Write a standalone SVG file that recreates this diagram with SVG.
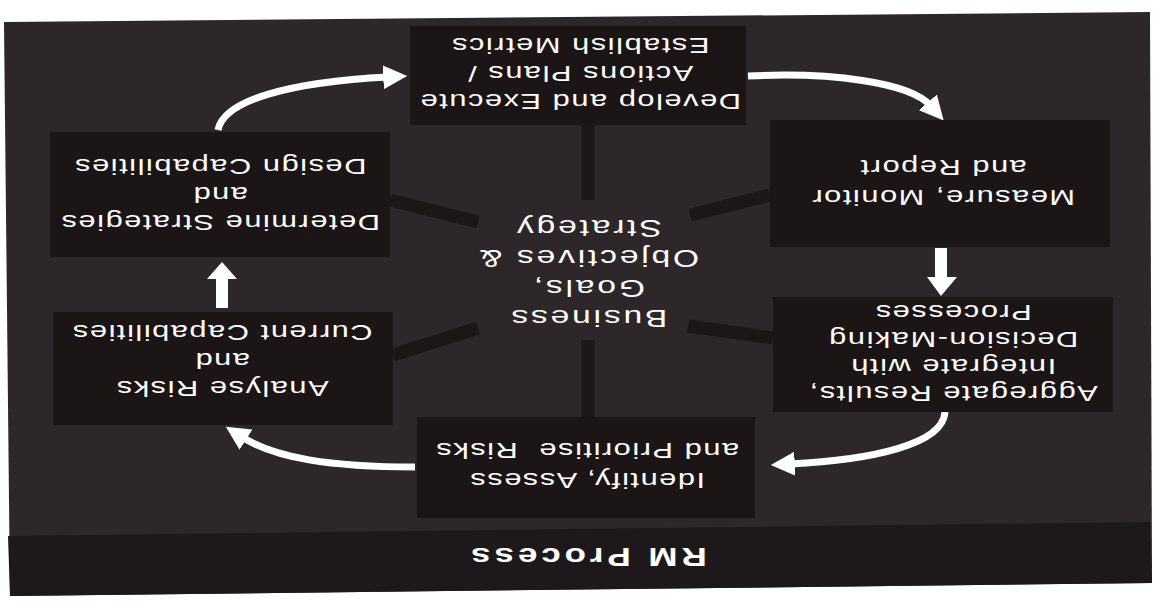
<svg xmlns="http://www.w3.org/2000/svg" width="1160" height="603" viewBox="0 0 1160 603">
<style>
.box{fill:#1b1516;}
.t{font-family:"Liberation Sans",Arial,sans-serif;font-size:22px;fill:#ffffff;text-anchor:middle;dominant-baseline:central;letter-spacing:1.1px;white-space:pre;}
.c{font-size:24px;letter-spacing:2px;}
.ttl{font-family:"Liberation Sans",Arial,sans-serif;font-size:25px;font-weight:bold;fill:#ffffff;text-anchor:middle;dominant-baseline:central;letter-spacing:2.8px;}
.spoke{stroke:#1c1617;stroke-width:13;fill:none;}
.arr{stroke:#ffffff;stroke-width:7;fill:none;marker-end:url(#ah);}
</style>
<defs>
<marker id="ah" viewBox="0 0 10 10" refX="2" refY="5" markerWidth="24" markerHeight="24" markerUnits="userSpaceOnUse" orient="auto">
<path d="M0,0 L10,5 L0,10 z" fill="#ffffff"/>
</marker>
</defs>
<rect x="0" y="0" width="1160" height="603" fill="#ffffff"/>
<g id="panel">
<polygon points="4,22 1150,12 1152,583 10,596" fill="#2e2729"/>
<polygon points="8,536 1150,522 1152,583 10,596" fill="#1d1819"/>
</g>
<g id="connectors">
<line class="spoke" x1="588" y1="125" x2="588" y2="200"/>
<line class="spoke" x1="588" y1="340" x2="588" y2="417"/>
<line class="spoke" x1="390" y1="200" x2="478" y2="222"/>
<line class="spoke" x1="770" y1="195" x2="690" y2="215"/>
<line class="spoke" x1="393" y1="355" x2="478" y2="328"/>
<line class="spoke" x1="773" y1="338" x2="688" y2="326"/>
<path class="arr" d="M218,130 C224,100 290,82 388,77"/>
<path class="arr" d="M748,76 C830,72 910,82 931,106"/>
<path class="arr" d="M945,412 C943,445 870,460 790,464"/>
<path class="arr" d="M415,467 C330,467 275,458 242,437"/>
<polygon points="935,248 947,248 947,277 957,277 941,296 927,277 935,277" fill="#ffffff"/>
<polygon points="216,308 228,308 228,279 237,279 222,262 207,279 216,279" fill="#ffffff"/>
</g>
<g id="node-develop">
<rect class="box" x="410" y="26" width="336" height="99"/>
<g transform="translate(580,73) rotate(180) scale(1.4,1)">
<text class="t" y="-28">Develop and Execute</text>
<text class="t" y="0">Actions Plans /</text>
<text class="t" y="28">Establish Metrics</text>
</g>
</g>
<g id="node-measure">
<rect class="box" x="770" y="120" width="340" height="127"/>
<g transform="translate(943,182) rotate(180) scale(1.4,1)">
<text class="t" y="-15">Measure, Monitor</text>
<text class="t" y="15">and Report</text>
</g>
</g>
<g id="node-aggregate">
<rect class="box" x="773" y="297" width="340" height="115"/>
<g transform="translate(953,352) rotate(180) scale(1.4,1)">
<text class="t" y="-41">Aggregate Results,</text>
<text class="t" y="-14">Integrate with</text>
<text class="t" y="13">Decision-Making</text>
<text class="t" y="40">Processes</text>
</g>
</g>
<g id="node-identify">
<rect class="box" x="417" y="417" width="338" height="101"/>
<g transform="translate(587,465) rotate(180) scale(1.4,1)">
<text class="t" y="-15">Identify, Assess</text>
<text class="t" y="15">and Prioritise  Risks</text>
</g>
</g>
<g id="node-analyse">
<rect class="box" x="53" y="312" width="340" height="113"/>
<g transform="translate(222,360) rotate(180) scale(1.4,1)">
<text class="t" y="-28">Analyse Risks</text>
<text class="t" y="0">and</text>
<text class="t" y="28">Current Capabilities</text>
</g>
</g>
<g id="node-determine">
<rect class="box" x="50" y="132" width="340" height="125"/>
<g transform="translate(220,194) rotate(180) scale(1.4,1)">
<text class="t" y="-28">Determine Strategies</text>
<text class="t" y="0">and</text>
<text class="t" y="28">Design Capabilities</text>
</g>
</g>
<g id="node-center">
<g transform="translate(588,273) rotate(180) scale(1.4,1)">
<text class="t c" y="-45">Business</text>
<text class="t c" y="-15">Goals,</text>
<text class="t c" y="15">Objectives &amp;</text>
<text class="t c" y="45">Strategy</text>
</g>
</g>
<g id="title">
<g transform="translate(587,557) rotate(180) scale(1.4,1)">
<text class="ttl" y="0">RM Process</text>
</g>
</g>
</svg>
